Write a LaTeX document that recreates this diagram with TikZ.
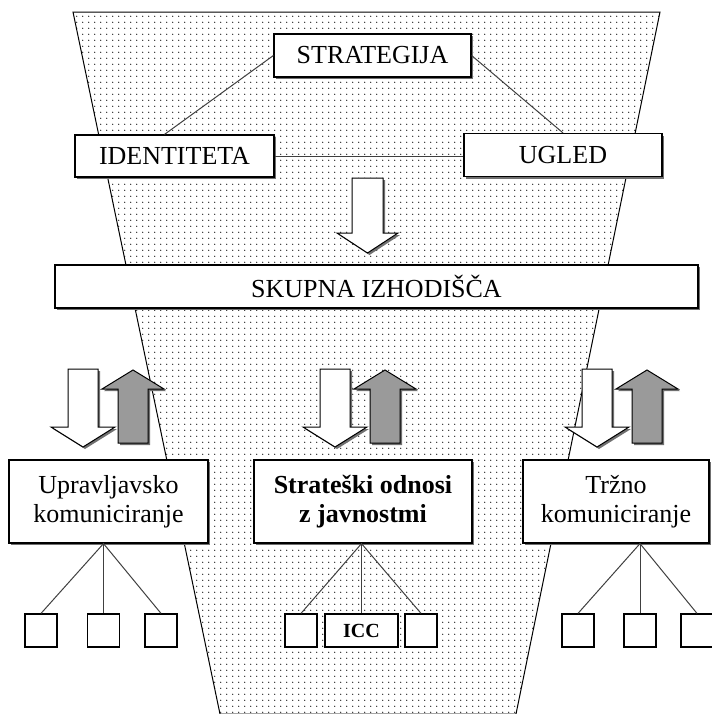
\documentclass[tikz,border=0pt]{standalone}
\usepackage{fontspec}
\setmainfont{Liberation Serif}
\usepackage{tikz}
\usetikzlibrary{calc,shadows,patterns,positioning}
\definecolor{PRGray}{HTML}{9A9A9A}
\definecolor{PRShadow}{HTML}{707070}
\pgfdeclarepatternformonly{finedots}{\pgfpointorigin}{\pgfqpoint{3.1pt}{3.1pt}}{\pgfqpoint{3.1pt}{3.1pt}}{\pgfpathcircle{\pgfqpoint{1.55pt}{1.55pt}}{.42pt}\pgfusepath{fill}}
\tikzset{
  box/.style={draw, line width=.6pt, fill=white, inner sep=2pt, align=center,
    font=\fontsize{13}{14.5}\selectfont,
    drop shadow={shadow xshift=1.2pt, shadow yshift=-1.2pt, fill=PRShadow, opacity=1}},
  leaf/.style={draw, line width=.6pt, fill=white, minimum width=16pt,
    minimum height=16.5pt, inner sep=0pt},
  twig/.style={line width=.5pt, draw=black!75},
  blockdown/.style={draw, line width=.5pt, fill=white,
    drop shadow={shadow xshift=1pt, shadow yshift=-1pt, fill=PRShadow, opacity=1}},
  blockup/.style={draw, line width=.5pt, fill=PRGray,
    drop shadow={shadow xshift=1pt, shadow yshift=-1pt, fill=PRShadow, opacity=1}}
}

\begin{document}
\begin{tikzpicture}[x=0.5pt, y=-0.5pt]
\useasboundingbox (0,0) rectangle (712,714);
% funnel
\filldraw[pattern=finedots, line width=.5pt] (73,12) -- (660,12) -- (516,714) -- (220,714) -- cycle;

% top triangle
\node[box, minimum width=98.5pt, minimum height=21.5pt] (strat) at (372.5,55.5) {STRATEGIJA};
\node[box, minimum width=99.5pt, minimum height=21pt] (ident) at (174.5,156) {IDENTITETA};
\node[box, minimum width=99pt, minimum height=21.5pt] (ugled) at (563,155) {UGLED};
\draw[twig] (strat.west) -- ($(ident.north west)!0.45!(ident.north east)$);
\draw[twig] (strat.east) -- (ugled.north);
\draw[twig] (ident.east) -- (ident.east -| ugled.west);

\filldraw[blockdown] (352,178) -- ++(31,0) -- ++(0,55) -- ++(15,0) -- ++(-30.5,20) -- ++(-30.5,-20) -- ++(15,0) -- cycle;

\node[box, minimum width=321.5pt, minimum height=21.5pt] (skupna) at (376.5,286.5) {SKUPNA IZHODIŠČA};

% arrow pairs
\foreach \x in {68,320,582} {
  \filldraw[blockdown] (\x,369) -- ++(30,0) -- ++(0,58) -- ++(17,0) -- ++(-32,20) -- ++(-32,-20) -- ++(17,0) -- cycle;
  \filldraw[blockup] (\x+50,443) -- ++(30,0) -- ++(0,-54) -- ++(16,0) -- ++(-31,-19) -- ++(-31,19) -- ++(16,0) -- cycle;
}

% three areas
\node[box, minimum width=99.5pt, minimum height=41.5pt] (uprav) at (108.5,501.5) {Upravljavsko\\komuniciranje};
\node[box, minimum width=109pt, minimum height=41.5pt, font=\fontsize{13}{14.5}\selectfont\bfseries] (odnosi) at (363,501.5) {Strateški odnosi\\z javnostmi};
\node[box, minimum width=93pt, minimum height=41.5pt] (trzno) at (616,501.5) {Tržno\\komuniciranje};

% leaves
\node[leaf] (u1) at (41,630.5) {};
\node[leaf] (u2) at (103.5,630.5) {};
\node[leaf] (u3) at (161,630.5) {};
\node[leaf] (o1) at (301,630.5) {};
\node[leaf, minimum width=36.5pt, font=\fontsize{10}{12}\selectfont\bfseries] (icc) at (361.5,630.5) {ICC};
\node[leaf] (o3) at (421,630.5) {};
\node[leaf] (t1) at (578,630.5) {};
\node[leaf] (t2) at (640,630.5) {};
\node[leaf] (t3) at (697,630.5) {};

\coordinate (uroot) at (u2.north |- uprav.south);
\coordinate (oroot) at (icc.north |- odnosi.south);
\coordinate (troot) at (t2.north |- trzno.south);
\foreach \r/\a/\b/\c in {uroot/u1/u2/u3, oroot/o1/icc/o3, troot/t1/t2/t3} {
  \draw[twig] (\a.north) -- (\r) -- (\c.north);
  \draw[twig] (\r) -- (\b.north);
}
\end{tikzpicture}
\end{document}
